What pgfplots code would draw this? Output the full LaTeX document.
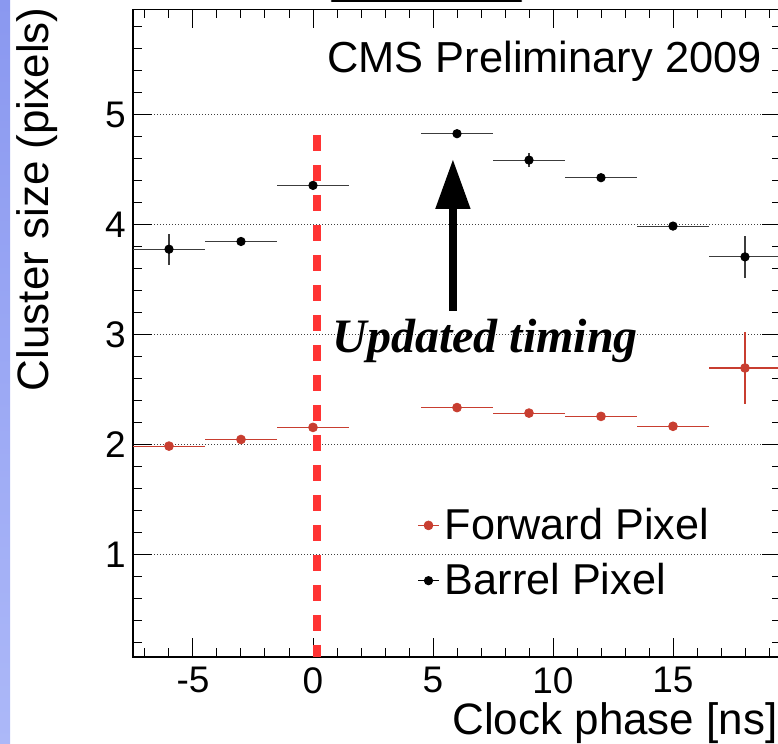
\documentclass[border=0pt]{standalone}
\usepackage{fontspec}
\setmainfont{Liberation Sans}
\newfontfamily\timesfont{Liberation Serif}
\usepackage{pgfplots}
\pgfplotsset{compat=1.18}
\usepackage{pgfplotstable}
\usetikzlibrary{arrows.meta}

\definecolor{fwdred}{RGB}{200,62,48}
\definecolor{dashred}{RGB}{255,51,51}
\definecolor{stripA}{RGB}{138,152,240}
\definecolor{stripB}{RGB}{172,184,248}
\definecolor{barbl}{RGB}{60,60,60}

\pgfplotstableread{
x y ex ey
-6 1.99 1.5 0.03
-3 2.05 1.5 0.01
0 2.16 1.5 0.01
6 2.34 1.5 0.01
9 2.29 1.5 0.01
12 2.26 1.5 0.01
15 2.17 1.5 0.01
18 2.70 1.5 0.33
}\fwd

\pgfplotstableread{
x y ex ey
-6 3.78 1.5 0.14
-3 3.85 1.5 0.03
0 4.36 1.5 0.02
6 4.83 1.5 0.02
9 4.59 1.5 0.06
12 4.43 1.5 0.02
15 3.99 1.5 0.02
18 3.71 1.5 0.19
}\barrel

\begin{document}
\begin{tikzpicture}[x=0.5pt,y=0.5pt]
\useasboundingbox (0,0) rectangle (778,744);
\shade[top color=stripA, bottom color=stripB] (0,0) rectangle (10,744);
\draw[line width=1.3pt, line cap=round] (332,743) -- (521,743);
\begin{axis}[
  at={(66.5pt,43.5pt)}, anchor=south west,
  scale only axis, width=324pt, height=323.75pt,
  xmin=-7.5, xmax=19.5, ymin=0.0727, ymax=5.959,
  xtick={-5,0,5,10,15}, ytick={1,2,3,4,5},
  minor xtick={-7,-6,-4,-3,-2,-1,1,2,3,4,6,7,8,9,11,12,13,14,16,17,18,19},
  minor ytick={0.2,0.4,0.6,0.8,1.2,1.4,1.6,1.8,2.2,2.4,2.6,2.8,3.2,3.4,3.6,3.8,4.2,4.4,4.6,4.8,5.2,5.4,5.6,5.8},
  xtick pos=both, ytick pos=both,
  xticklabel pos=lower, yticklabel pos=left,
  tick align=inside,
  major tick length=9.5pt, minor tick length=4.5pt,
  tick style={black, line width=0.5pt},
  axis line style={line width=0.7pt},
  ymajorgrids,
  major grid style={black!75, line width=0.5pt, dash pattern=on 0.5pt off 1pt},
  /pgf/number format/assume math mode=true,
  every tick label/.append style={font=\fontsize{18.5}{18.5}\selectfont, inner sep=0pt},
  xticklabel style={anchor=north, yshift=-5pt},
  yticklabel style={anchor=east, xshift=-3.5pt},
  xlabel={Clock phase [ns]},
  every axis x label/.style={at={(axis description cs:0.9954,-0.1190)}, anchor=base east, font=\fontsize{22}{22}\selectfont, inner sep=0pt},
  ylabel={Cluster size (pixels)},
  every axis y label/.style={at={(axis description cs:-0.1298,1.004)}, rotate=90, anchor=base east, font=\fontsize{22}{22}\selectfont, inner sep=0pt},
  legend style={at={(axis cs:4.375,1.425)}, anchor=north west, draw=none, fill=none, inner sep=0pt, outer sep=0pt,
    font=\fontsize{21.6}{21.6}\selectfont, row sep=10.5pt, column sep=0pt,
    nodes={inner sep=0pt}},
  legend cell align=left,
  legend image code/.code={\draw[#1,mark=none,line width=0.5pt] (0pt,0pt) -- (10pt,0pt); \draw[#1] plot coordinates {(5pt,0pt)}; \path (13pt,0pt);},
]
\draw[dashred, line width=4pt, dash pattern=on 8pt off 7pt] (axis cs:0.167,4.82) -- (axis cs:0.167,0.0727);

\addplot[fwdred, only marks, mark=*, mark size=2.2pt,
  error bars/.cd, x dir=both, x explicit, y dir=both, y explicit,
  error bar style={line width=0.55pt, fwdred}, error mark=none]
  table[x=x, y=y, x error=ex, y error=ey] {\fwd};
\addlegendentry{Forward Pixel}

\addplot[black, only marks, mark=*, mark size=2.1pt,
  error bars/.cd, x dir=both, x explicit, y dir=both, y explicit,
  error bar style={line width=0.55pt, barbl}, error mark=none]
  table[x=x, y=y, x error=ex, y error=ey] {\barrel};
\addlegendentry{Barrel Pixel}

\draw[black, line width=4pt, -{Triangle[width=16.5pt,length=25pt]}] (axis cs:5.83,3.22) -- (axis cs:5.83,4.6);

\node[anchor=base west, inner sep=0pt, font={\fontsize{24}{24}\timesfont\bfseries\itshape}] at (axis cs:0.80,2.845) {Updated timing};
\node[anchor=base east, inner sep=0pt, font=\fontsize{21.7}{21.7}\selectfont] at (axis cs:18.71,5.382) {CMS Preliminary 2009};
\end{axis}
\end{tikzpicture}
\end{document}
